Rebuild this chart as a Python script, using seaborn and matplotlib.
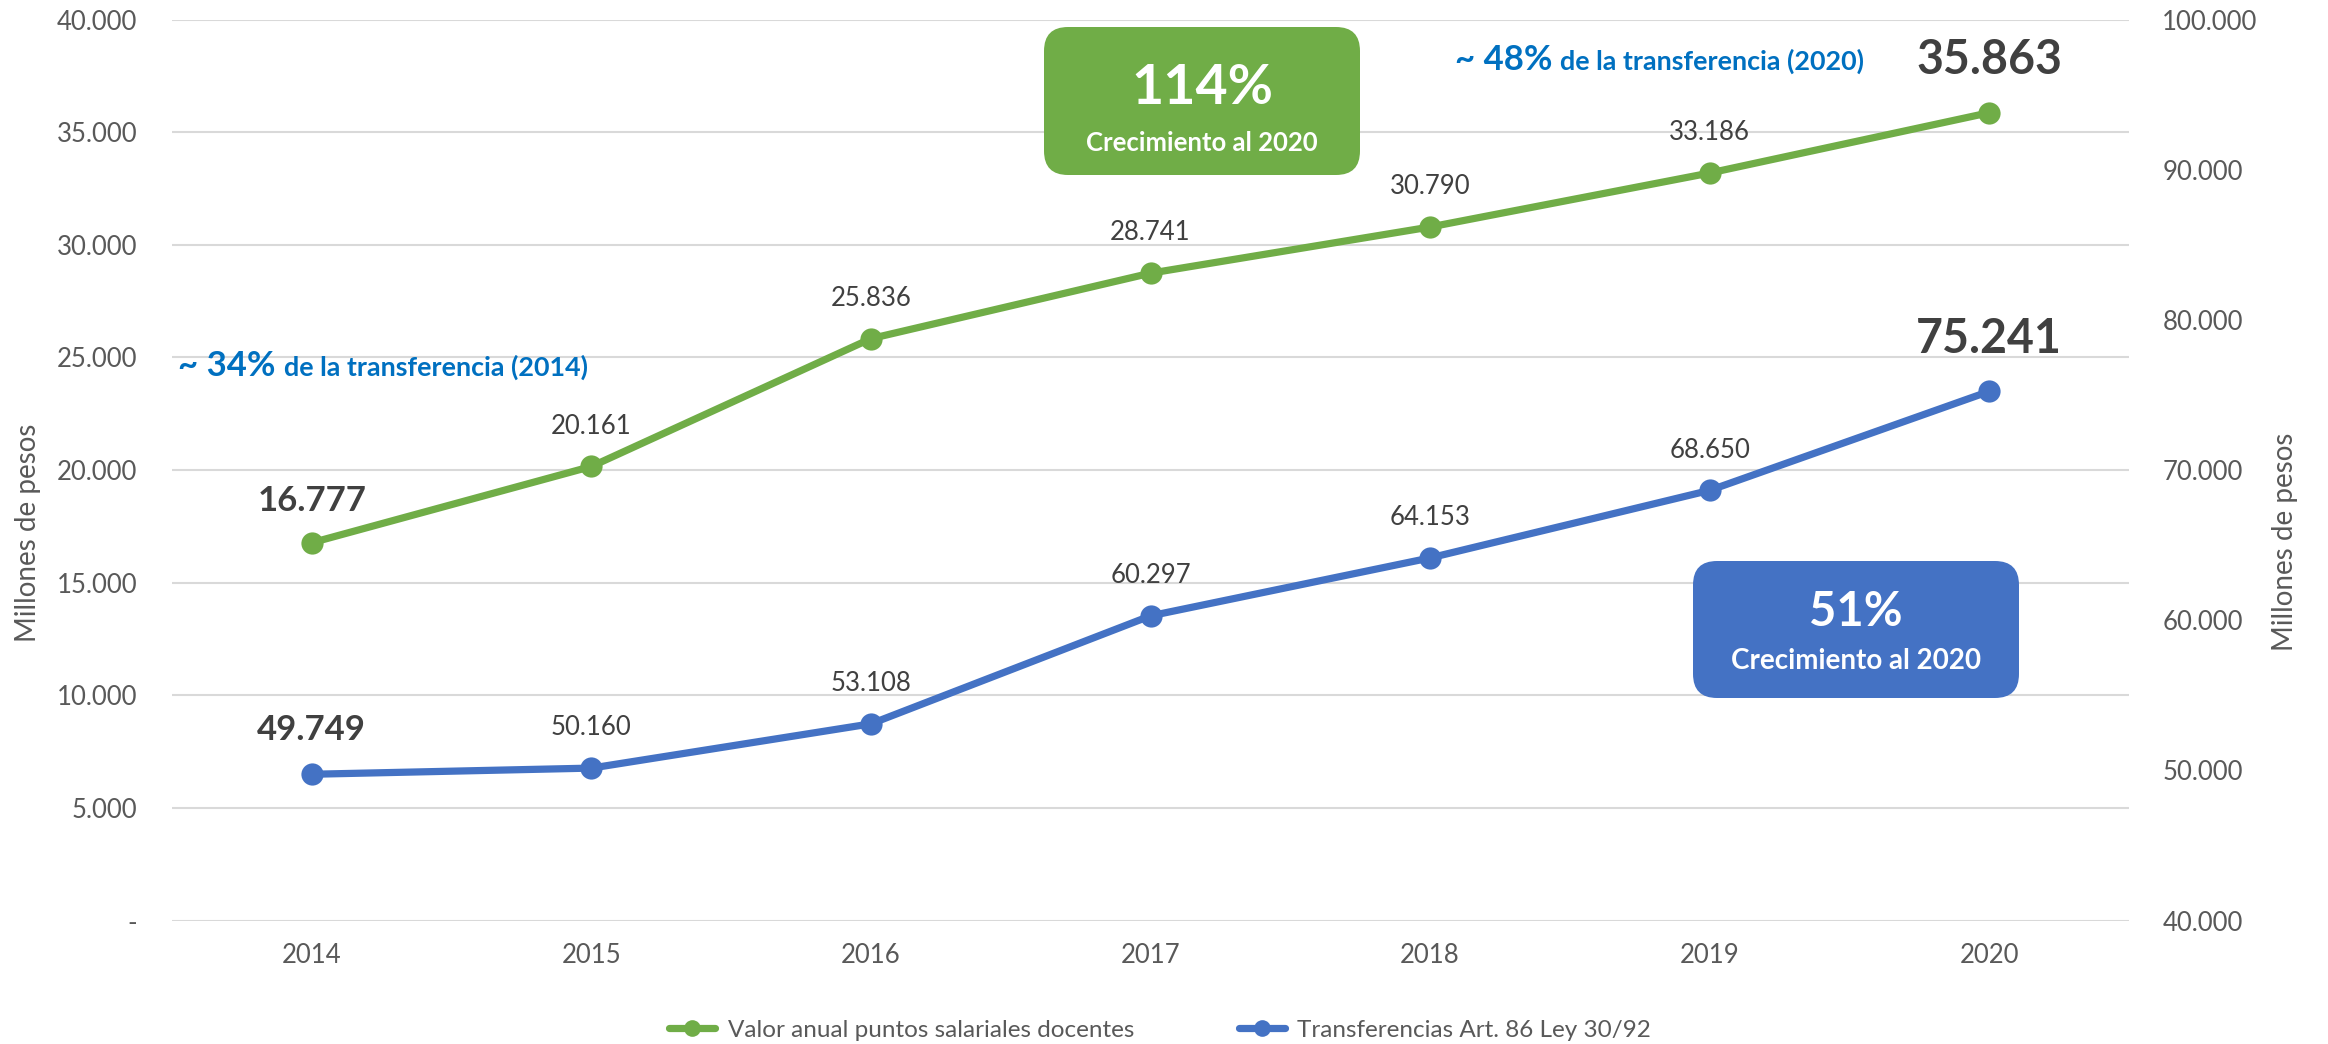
import matplotlib
matplotlib.use("Agg")
import matplotlib.pyplot as plt
import matplotlib.transforms as mtransforms
from matplotlib.patches import FancyBboxPatch
import seaborn as sns
import pandas as pd

# ---------------- data ----------------
years = ["2014", "2015", "2016", "2017", "2018", "2019", "2020"]
valor_docentes = [16777, 20161, 25836, 28741, 30790, 33186, 35863]
transferencias = [49749, 50160, 53108, 60297, 64153, 68650, 75241]
label_docentes = "Valor anual puntos salariales docentes"
label_transf = "Transferencias Art. 86 Ley 30/92"
left_ticks = [0, 5000, 10000, 15000, 20000, 25000, 30000, 35000, 40000]
right_ticks = [40000, 50000, 60000, 70000, 80000, 90000, 100000]

GREEN = "#70AD47"
BLUE = "#4472C4"
TXT_BLUE = "#0070C0"
DARK = "#404040"
GREY = "#595959"

sns.set_style("white")
plt.rcParams["font.family"] = ["Lato", "DejaVu Sans"]

W, H = 2328, 1044
fig = plt.figure(figsize=(W / 100, H / 100), dpi=100)
ax = fig.add_axes([172 / W, 1 - 920.7 / H, (2129 - 172) / W, (920.7 - 19.5) / H])
ax2 = ax.twinx()

df = pd.DataFrame({"year": years, "docentes": valor_docentes, "transf": transferencias})

sns.lineplot(data=df, x="year", y="docentes", ax=ax, color=GREEN, lw=5.2, marker="o",
             markersize=16, markeredgewidth=0, label=label_docentes, sort=False, zorder=3)
sns.lineplot(data=df, x="year", y="transf", ax=ax2, color=BLUE, lw=5.2, marker="o",
             markersize=16, markeredgewidth=0, label=label_transf, sort=False, zorder=3)

for a in (ax, ax2):
    leg = a.get_legend()
    if leg is not None:
        leg.remove()
    for s in a.spines.values():
        s.set_visible(False)

ax.set_xlim(-0.5, 6.5)
ax.set_ylim(0, 40000)
ax2.set_ylim(40000, 100000)


def fmt(v):
    return f"{v:,}".replace(",", ".")


ax.set_yticks(left_ticks)
ax.set_yticklabels(["-"] + [fmt(v) for v in left_ticks[1:]])
ax2.set_yticks(right_ticks)
ax2.set_yticklabels([fmt(v) for v in right_ticks])

ax.yaxis.grid(True, color="#D9D9D9", lw=1.5)
ax.set_axisbelow(True)
ax2.grid(False)

ax.tick_params(axis="y", length=0, pad=25, labelsize=18.5, labelcolor=GREY)
ax2.tick_params(axis="y", length=0, pad=24, labelsize=18.5, labelcolor=GREY)
ax.tick_params(axis="x", length=0, pad=16, labelsize=18.5, labelcolor=GREY)

ax.set_xlabel("")
ax.set_ylabel("Millones de pesos", fontsize=20, color=GREY, labelpad=11)
ax2.set_ylabel("Millones de pesos", fontsize=20, color=GREY, labelpad=10)
ax.yaxis.label.set_y(0.43)
ax2.yaxis.label.set_y(0.42)

# data labels
n = len(years)
for i, v in enumerate(valor_docentes):
    if i == 0:
        ax.annotate(fmt(v), (i, v), xytext=(0, 30), textcoords="offset points",
                    ha="center", va="center", fontsize=25, fontweight="bold", color=DARK)
    elif i == n - 1:
        ax.annotate(fmt(v), (i, v), xytext=(0, 38), textcoords="offset points",
                    ha="center", va="center", fontsize=33.5, fontweight="bold", color=DARK)
    else:
        ax.annotate(fmt(v), (i, v), xytext=(0, 29), textcoords="offset points",
                    ha="center", va="center", fontsize=18.5, color=DARK)
for i, v in enumerate(transferencias):
    if i == 0:
        ax2.annotate(fmt(v), (i, v), xytext=(0, 32), textcoords="offset points",
                     ha="center", va="center", fontsize=25, fontweight="bold", color=DARK)
    elif i == n - 1:
        ax2.annotate(fmt(v), (i, v), xytext=(0, 38), textcoords="offset points",
                     ha="center", va="center", fontsize=33.5, fontweight="bold", color=DARK)
    else:
        ax2.annotate(fmt(v), (i, v), xytext=(0, 29), textcoords="offset points",
                     ha="center", va="center", fontsize=18.5, color=DARK)

# pixel helper (y measured from top)
pix = mtransforms.IdentityTransform()


def P(x, y_top):
    return x, H - y_top


# rounded boxes
def box(x0, y0, x1, y1, color, big, small, big_y, small_y, big_size, small_size):
    bx, by = P(x0, y1)
    patch = FancyBboxPatch((bx, by), x1 - x0, y1 - y0,
                           boxstyle="round,pad=0,rounding_size=24",
                           transform=pix, facecolor=color, edgecolor="none", zorder=5)
    fig.add_artist(patch)
    cx = (x0 + x1) / 2
    fig.text(*P(cx, big_y), big, transform=pix, ha="center", va="center",
             fontsize=big_size, fontweight="bold", color="white", zorder=6)
    fig.text(*P(cx, small_y), small, transform=pix, ha="center", va="center",
             fontsize=small_size, fontweight="bold", color="white", zorder=6)


box(1044, 27, 1360, 175, GREEN, "114%", "Crecimiento al 2020", 88, 143, 40, 18.5)
box(1693, 561, 2019, 698, BLUE, "51%", "Crecimiento al 2020", 612, 661, 34, 20)

# blue annotation texts (two parts)
fig.canvas.draw()
renderer = fig.canvas.get_renderer()


def two_part(x_left, y_mid, part1, part2, s1, s2):
    t1 = fig.text(*P(x_left, y_mid), part1, transform=pix, ha="left", va="baseline",
                  fontsize=s1, fontweight="bold", color=TXT_BLUE)
    bb = t1.get_window_extent(renderer)
    t1.set_position((x_left, H - y_mid - bb.height * 0.35))
    bb = t1.get_window_extent(renderer)
    fig.text(bb.x1 + 8, H - y_mid - bb.height * 0.35, part2, transform=pix,
             ha="left", va="baseline", fontsize=s2, fontweight="bold", color=TXT_BLUE)


two_part(178, 365, "~ 34%", "de la transferencia (2014)", 25, 19.4)
two_part(1455, 59, "~ 48%", "de la transferencia (2020)", 25, 19.4)

# legend
h1 = ax.get_lines()[0]
h2 = ax2.get_lines()[0]
fig.legend([h1, h2], [label_docentes, label_transf], loc="center",
           bbox_to_anchor=(1160 / W, 14 / H), ncol=2, frameon=False, fontsize=17.5,
           handlelength=1.9, handletextpad=0.5, columnspacing=4.3, markerscale=0.75,
           labelcolor=GREY)

fig.savefig("out.png", dpi=100)
